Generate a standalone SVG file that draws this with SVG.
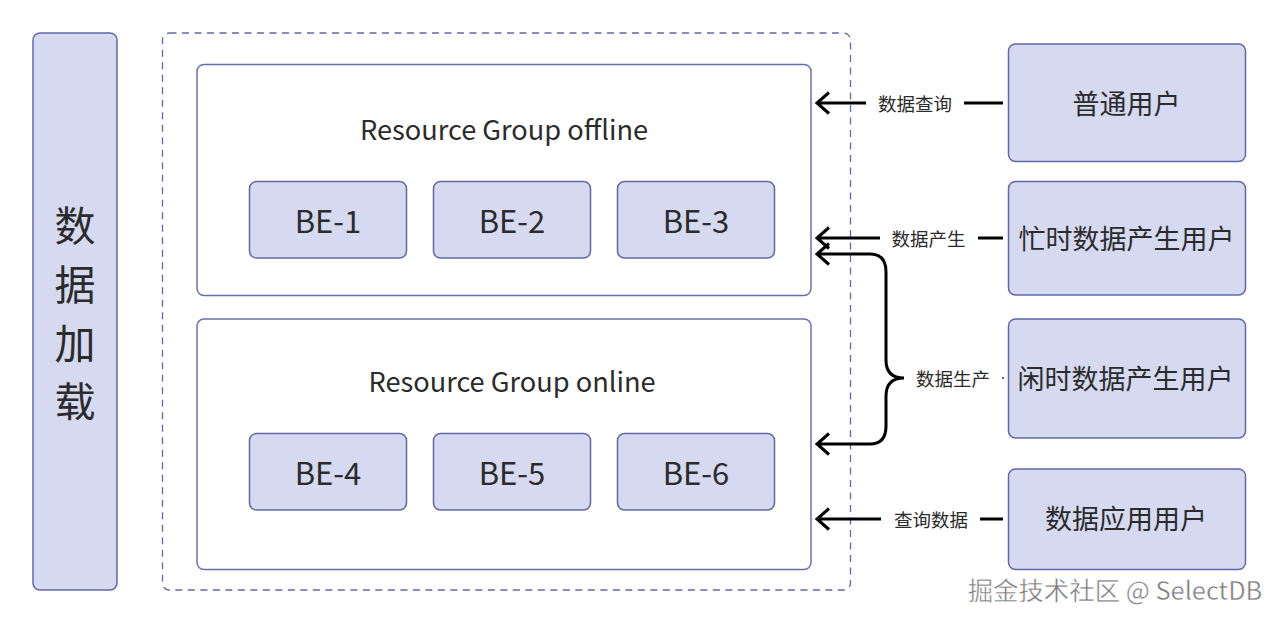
<svg xmlns="http://www.w3.org/2000/svg" width="1280" height="624" viewBox="0 0 1280 624">
<style>
text{font-family:"Noto Sans CJK SC","Noto Sans",sans-serif;fill:#2b2b2b;text-anchor:middle}
.n{fill:#d5daf1;stroke:#6268a8;stroke-width:1.5}
.g{fill:#fff;stroke:#6a70ac;stroke-width:1.5}
.c{fill:none;stroke:#000;stroke-width:3}
.l{font-size:18.500px}
.t{font-size:27.200px}
.u{font-size:27px}
.b{font-size:31px}
.v{font-size:41px}
</style>
<rect width="1280" height="624" fill="#fff"/>
<g id="load"><rect class="n" x="33" y="33" width="84" height="557" rx="7"/>
<text class="v" x="75" y="241">数</text><text class="v" x="75" y="300">据</text><text class="v" x="75" y="359">加</text><text class="v" x="75" y="417">载</text></g>
<g id="cluster"><rect x="162.500" y="33" width="688" height="557" rx="7" fill="none" stroke="#6268a8" stroke-width="1.300" stroke-dasharray="7 5.500"/></g>
<g id="rg-offline"><rect class="g" x="197" y="64.500" width="614" height="231" rx="7"/><text class="t" x="504" y="140">Resource Group offline</text></g>
<g id="rg-online"><rect class="g" x="197" y="319" width="614" height="250.500" rx="7"/><text class="t" x="512" y="392">Resource Group online</text></g>
<g id="be1"><rect class="n" x="249.500" y="181.500" width="157" height="76.500" rx="7"/><text class="b" x="328" y="233">BE-1</text></g>
<g id="be2"><rect class="n" x="433.500" y="181.500" width="157" height="76.500" rx="7"/><text class="b" x="512" y="233">BE-2</text></g>
<g id="be3"><rect class="n" x="617.500" y="181.500" width="157" height="76.500" rx="7"/><text class="b" x="696" y="233">BE-3</text></g>
<g id="be4"><rect class="n" x="249.500" y="433.500" width="157" height="76.500" rx="7"/><text class="b" x="328" y="485">BE-4</text></g>
<g id="be5"><rect class="n" x="433.500" y="433.500" width="157" height="76.500" rx="7"/><text class="b" x="512" y="485">BE-5</text></g>
<g id="be6"><rect class="n" x="617.500" y="433.500" width="157" height="76.500" rx="7"/><text class="b" x="696" y="485">BE-6</text></g>
<g id="u1"><rect class="n" x="1008.500" y="44" width="237" height="117.500" rx="7"/><text class="u" x="1126.500" y="114">普通用户</text></g>
<g id="u2"><rect class="n" x="1008.500" y="181.500" width="237" height="113.500" rx="7"/><text class="u" x="1126.500" y="249">忙时数据产生用户</text></g>
<g id="u3"><rect class="n" x="1008.500" y="319" width="237" height="119" rx="7"/><text class="u" x="1125.500" y="389">闲时数据产生用户</text></g>
<g id="u4"><rect class="n" x="1008.500" y="469" width="237" height="100.500" rx="7"/><text class="u" x="1126" y="529">数据应用用户</text></g>
<g id="connectors">
<path class="c" d="M866 103H817M829 92.500L817 103L829 113.500"/><path class="c" d="M964 103H1003"/>
<path class="c" d="M880 238H817M829 227.500L817 238L829 248.500"/><path class="c" d="M978 238H1003"/>
<path class="c" d="M829 243.500L817 254L829 264.500M817 254H870Q886 254 886 272V360Q886 378 904 378Q886 378 886 396V426Q886 444 870 444H817M829 433.500L817 444L829 454.500"/>
<path class="c" d="M881 519H817M829 508.500L817 519L829 529.500"/><path class="c" d="M980 519H1003"/>
<circle cx="1003" cy="378" r="1" fill="#333"/>
</g>
<text class="l" x="915" y="111">数据查询</text>
<text class="l" x="928.500" y="246">数据产生</text>
<text class="l" x="953" y="386">数据生产</text>
<text class="l" x="931" y="527">查询数据</text>
<text x="1115" y="600" font-size="25.400" style="fill:#7d7d7d;stroke:#fff;stroke-width:.4">掘金技术社区 @ SelectDB</text>
</svg>
